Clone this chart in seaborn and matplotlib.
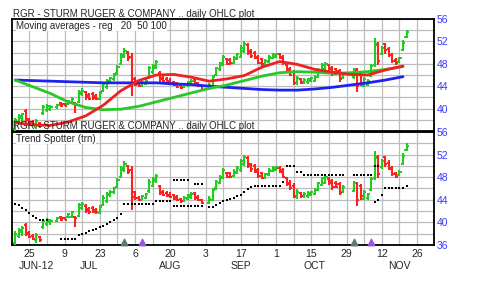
import numpy as np
import pandas as pd
import matplotlib
matplotlib.use("Agg")
import matplotlib.pyplot as plt
import matplotlib.transforms as mtransforms
import seaborn as sns

# ---------------- data ----------------
holidays = ["2012-07-04", "2012-09-03", "2012-10-29", "2012-10-30", "2012-11-22"]
first_day = "2012-06-19"
last_day = "2012-11-21"

opens = [36.4, 37.6, 38.3, 39.5, 38.2, 37.6, 36.8, 37.4, 39.2, 39.8, 40.0,
         40.2, 41.0, 40.8, 40.9, 41.0, 41.0, 41.2, 42.6, 42.9, 42.4, 42.6, 42.2, 41.7, 43.1, 43.8, 44.8, 45.3, 46.3,
         48.0, 49.3, 49.9, 49.3, 45.3, 44.4, 44.0, 44.4, 45.5, 46.5, 47.3, 46.4, 45.4, 45.2, 44.9, 44.8, 44.5, 44.2,
         43.8, 44.2, 44.5, 45.2, 44.5, 44.0,
         43.5, 44.0, 46.0, 47.0, 47.8, 48.8, 48.7, 48.2, 48.8, 49.3, 50.3, 51.4, 50.3, 50.0, 49.3, 48.8, 47.8, 48.4,
         49.1, 49.3, 49.7, 49.3, 47.8, 47.0, 46.5, 44.5, 45.2, 44.6, 44.7, 44.9, 45.0, 45.7, 46.6, 47.0, 47.7, 47.3,
         47.0, 46.8, 45.4,
         45.6, 46.9, 46.4, 44.1, 44.3, 45.8, 47.8, 51.6, 49.8, 51.5, 50.6, 49.6, 48.7, 48.4, 50.4, 52.8]
highs = [38.4, 39.0, 39.3, 39.9, 38.4, 37.9, 38.2, 37.6, 40.6, 40.8, 40.6,
         40.9, 41.2, 41.0, 41.6, 42.1, 41.2, 43.4, 43.6, 43.2, 42.7, 42.9, 42.6, 43.1, 44.8, 45.3, 45.7, 46.3, 47.8,
         50.0, 50.8, 50.2, 49.9, 45.6, 44.6, 44.9, 45.2, 47.6, 48.0, 48.6, 46.7, 45.8, 45.6, 45.4, 45.0, 44.8, 44.4,
         44.6, 45.0, 45.3, 45.4, 44.8, 44.2,
         44.6, 46.0, 47.5, 48.4, 49.6, 49.0, 49.0, 49.4, 50.0, 51.3, 52.0, 51.7, 50.6, 50.3, 49.6, 49.0, 48.8, 49.6,
         49.9, 50.0, 49.9, 49.6, 48.0, 47.5, 46.9, 45.9, 45.4, 45.4, 45.5, 45.6, 46.0, 47.2, 48.1, 48.3, 48.0, 47.6,
         47.3, 47.1, 46.6,
         47.3, 47.2, 46.8, 45.7, 45.2, 48.0, 52.6, 51.9, 51.2, 51.8, 51.0, 50.0, 49.0, 49.3, 52.2, 54.0]
lows = [36.0, 37.2, 37.6, 37.6, 37.2, 36.9, 36.4, 36.6, 38.9, 39.4, 39.6,
        40.0, 40.3, 40.4, 40.7, 40.8, 39.2, 41.0, 42.2, 41.6, 41.5, 41.6, 41.5, 41.5, 42.9, 43.5, 44.5, 45.0, 46.0,
        47.8, 49.0, 48.5, 42.2, 44.0, 43.8, 43.9, 44.2, 45.2, 46.2, 47.0, 44.8, 44.6, 44.5, 44.3, 44.0, 43.7, 43.5,
        43.6, 43.9, 44.2, 44.0, 43.8, 43.2,
        43.3, 43.8, 45.8, 46.8, 47.6, 47.8, 47.8, 48.0, 48.6, 49.0, 50.0, 49.6, 49.0, 48.8, 47.9, 47.6, 47.6, 48.2,
        48.9, 49.1, 48.8, 47.8, 46.5, 45.8, 44.3, 44.2, 44.4, 44.4, 44.4, 44.7, 44.8, 45.5, 46.4, 46.8, 46.7, 45.8,
        46.0, 44.8, 45.2,
        45.3, 42.9, 44.0, 43.9, 44.0, 45.6, 47.5, 47.8, 49.5, 49.8, 49.2, 48.2, 47.8, 48.2, 50.2, 52.6]
closes = [38.0, 38.7, 39.0, 38.0, 37.5, 37.1, 37.8, 36.9, 40.2, 40.5, 40.3,
          40.7, 40.5, 40.5, 41.4, 41.8, 40.8, 43.0, 43.2, 42.0, 41.8, 41.9, 41.8, 42.8, 44.4, 45.0, 45.4, 46.0, 47.5,
          49.6, 50.3, 49.0, 44.5, 44.3, 44.0, 44.6, 45.0, 47.2, 47.6, 48.3, 45.2, 44.9, 44.7, 44.5, 44.2, 43.9, 43.7,
          44.4, 44.8, 45.0, 44.3, 44.0, 43.4,
          44.2, 45.7, 47.2, 48.1, 49.3, 48.0, 48.1, 49.0, 49.7, 50.8, 51.6, 50.0, 49.4, 49.0, 48.2, 47.9, 48.5, 49.3,
          49.6, 49.8, 49.0, 48.1, 46.8, 46.0, 44.6, 45.4, 44.7, 45.1, 45.2, 45.4, 45.7, 46.9, 47.8, 48.0, 47.0, 46.2,
          46.3, 45.2, 46.3,
          47.0, 44.0, 44.6, 45.3, 45.0, 47.6, 51.4, 48.5, 50.9, 50.4, 49.5, 48.5, 48.1, 49.0, 51.8, 53.6]

N = np.nan
trend_resist = [43.3, 43.0, 42.6, 42.2, 41.7, 41.2, 40.8, 40.4, 40.4, 40.4, N,
                N, N, N, N, N, N, N, N, N, N, N, N, N, N, N, N, N, N,
                N, N, N, N, N, N, N, N, N, N, N, N, N, N, N, 47.5, 47.5, 47.5,
                47.5, 47.5, N, 46.8, 46.8, 46.8,
                N, N, N, N, N, N, N, N, N, N, N, N, N, N, N, N, N, N,
                N, N, N, N, 50.0, 50.0, 50.0, 49.0, 49.0, 48.4, 48.4, 48.4, 48.4, 48.4, 48.4, 48.4, 48.4, 48.4,
                48.4, 48.4, 48.4,
                48.4, 48.4, 48.4, 48.4, 48.4, 48.4, 49.9, 49.9, N, N, N, N, N, N, N, N]
trend_support = [N, N, N, N, N, N, N, N, N, N, N,
                 N, 37.1, 37.1, 37.1, 37.1, 37.1, 37.7, 38.0, 38.2, 38.5, 38.7, 38.9, 39.1, 39.4, 39.8, 40.0, 40.4, 40.8,
                 41.5, 43.2, 43.2, 43.2, 43.2, 43.2, 43.2, 43.2, 43.2, 43.2, 43.8, 43.8, 43.8, 43.8, 43.8, 42.9, 42.9, 42.9,
                 42.9, 42.9, 42.9, 42.9, 42.9, 42.9,
                 42.8, 42.7, 43.0, 43.4, 43.7, 43.9, 44.2, 44.4, 44.6, 44.9, 45.4, 45.9, 46.3, 46.5, 46.5, 46.5, 46.5, 46.5,
                 46.5, 46.5, 46.5, 47.1, N, N, N, N, N, N, N, N, N, N, N, N, N, N,
                 N, N, N,
                 N, N, N, N, N, N, 43.6, 43.9, 44.8, 46.1, 46.1, 46.1, 46.1, 46.1, 46.1, 46.4]

# moving averages read weekly (Tuesdays) from the chart
ma_first, ma_last = "2012-06-19", "2012-11-20"
ma20 = [37.5, 37.1, 37.0, 37.6, 38.7, 40.6, 43.2, 45.0, 46.0, 46.1, 45.6, 44.9, 45.3, 45.9, 47.4, 48.4,
        47.9, 47.0, 46.5, 46.1, 46.0, 46.9, 47.6]
ma50 = [45.1, 43.9, 42.7, 41.2, 40.2, 39.8, 39.9, 40.4, 41.2, 42.0, 42.8, 43.6, 44.2, 45.0, 45.8, 46.4,
        46.6, 46.5, 46.3, 46.4, 46.6, 47.0, 47.5]
ma100 = [45.1, 45.0, 44.9, 44.8, 44.7, 44.6, 44.6, 44.6, 44.6, 44.4, 44.3, 44.0, 43.8, 43.6, 43.4, 43.3,
         43.3, 43.5, 43.8, 44.2, 44.6, 45.1, 45.7]

events_gray = ["2012-08-01", "2012-10-31"]
events_purple = ["2012-08-08", "2012-11-07"]

day_ticks = ["2012-06-25", "2012-07-09", "2012-07-23", "2012-08-06", "2012-08-20", "2012-09-03",
             "2012-09-17", "2012-10-01", "2012-10-15", "2012-10-29", "2012-11-12", "2012-11-26"]
month_labels = ["JUN-12", "JUL", "AUG", "SEP", "OCT", "NOV"]
month_label_dates = ["2012-06-27", "2012-07-18", "2012-08-20", "2012-09-17", "2012-10-16", "2012-11-19"]

title = "RGR - STURM RUGER & COMPANY .. daily OHLC plot"
sub1 = "Moving averages - reg   20  50 100"
sub2 = "Trend Spotter (trn)"

# ---------------- helpers ----------------
ORIGIN = "2012-06-18"
def bidx(d):
    d = np.asarray(pd.to_datetime(d).values.astype("datetime64[D]"))
    return np.busday_count(np.datetime64(ORIGIN), d)

dates = pd.bdate_range(first_day, last_day)
dates = dates[~dates.isin(pd.to_datetime(holidays))]
x = bidx(dates).astype(float)
df = pd.DataFrame({"x": x, "open": opens, "high": highs, "low": lows, "close": closes,
                   "res": trend_resist, "sup": trend_support})
ma_dates = pd.date_range(ma_first, ma_last, freq="W-TUE")
ma_df = pd.DataFrame({"x": bidx(ma_dates).astype(float), "ma20": ma20, "ma50": ma50, "ma100": ma100})

sns.set_style("white")
plt.rcParams["font.family"] = ["Liberation Sans", "DejaVu Sans"]

GREEN = "#22cc22"
RED = "#ff2020"
BLUE_TXT = "#3838ff"
GRID = "#bcbcbc"

W, H = 480, 282
fig = plt.figure(figsize=(W / 100, H / 100), dpi=100)
fig.patch.set_facecolor("white")

def px_axes(left, top, right, bottom):
    return fig.add_axes([left / W, 1 - bottom / H, (right - left) / W, (bottom - top) / H])

ax1 = px_axes(12, 19, 434, 131)
ax2 = px_axes(12, 132, 434, 245)

week_ticks = bidx(pd.date_range("2012-06-25", "2012-11-26", freq="W-MON"))

def ohlc(ax):
    up = df["close"] >= df["open"]
    cols = np.where(up, GREEN, RED)
    ax.vlines(df["x"], df["low"], df["high"], colors=cols, lw=1.5, zorder=3)
    ax.hlines(df["open"], df["x"] - 0.6, df["x"], colors=cols, lw=1.4, zorder=3)
    ax.hlines(df["close"], df["x"], df["x"] + 0.6, colors=cols, lw=1.4, zorder=3)

for ax in (ax1, ax2):
    ax.set_xlim(0.1, 119.8)
    ax.set_ylim(36, 56)
    ax.set_xticks(week_ticks)
    ax.set_yticks(np.arange(36, 57, 2))
    ax.grid(True, color=GRID, lw=0.9, zorder=0)
    ax.tick_params(axis="both", length=0)
    ax.yaxis.tick_right()
    for s in ax.spines.values():
        s.set_color("black")
        s.set_linewidth(1.3)
    ohlc(ax)

# y labels
lab1 = [str(v) if (v % 4 == 0 and v != 36) else "" for v in range(36, 57, 2)]
lab2 = [str(v) if v % 4 == 0 else "" for v in range(36, 57, 2)]
ax1.set_yticklabels(lab1)
ax2.set_yticklabels(lab2)
for ax in (ax1, ax2):
    ax.tick_params(axis="y", labelsize=7.5, labelcolor=BLUE_TXT, pad=2)
ax1.set_xticklabels([])
tick_set = set(bidx(day_ticks).tolist())
ax2.set_xticklabels([str(pd.Timestamp(np.busday_offset(ORIGIN, int(t))).day) if int(t) in tick_set else ""
                     for t in week_ticks])
ax2.tick_params(axis="x", labelsize=7.5, pad=3)

trans = mtransforms.blended_transform_factory(ax2.transData, ax2.transAxes)
for lab, d in zip(month_labels, month_label_dates):
    ax2.text(float(bidx([d])[0]), -0.19, lab, transform=trans, ha="center", va="center", fontsize=7.5)

# moving averages
sns.lineplot(data=ma_df, x="x", y="ma100", color="#2020f0", lw=2, ax=ax1, zorder=4)
sns.lineplot(data=ma_df, x="x", y="ma50", color="#28c828", lw=2, ax=ax1, zorder=4)
sns.lineplot(data=ma_df, x="x", y="ma20", color="#f02020", lw=2, ax=ax1, zorder=5)

# trend spotter dots
sns.scatterplot(data=df, x="x", y="res", marker="s", s=4.5, color="black", linewidth=0, ax=ax2, zorder=5)
sns.scatterplot(data=df, x="x", y="sup", marker="s", s=4.5, color="black", linewidth=0, ax=ax2, zorder=5)

# event markers
ax2.scatter(bidx(events_gray), [36.45] * len(events_gray), marker="^", s=22, color="#5e7878", zorder=6, clip_on=False)
ax2.scatter(bidx(events_purple), [36.45] * len(events_purple), marker="^", s=22, color="#9b55e0", zorder=6, clip_on=False)

for ax in (ax1, ax2):
    ax.set_xlabel("")
    ax.set_ylabel("")

# texts
fig.text(13 / W, 1 - 14 / H, title, fontsize=7, ha="left", va="center")
fig.text(13 / W, 1 - 126 / H, title, fontsize=7, ha="left", va="center", zorder=10)
box = dict(facecolor="white", edgecolor="none", pad=0.3)
ax1.text(0.01, 0.985, sub1, transform=ax1.transAxes, fontsize=7, ha="left", va="top", bbox=box, zorder=6)
ax2.text(0.01, 0.985, sub2, transform=ax2.transAxes, fontsize=7, ha="left", va="top", bbox=box, zorder=6)

fig.savefig("out.png", dpi=100)
